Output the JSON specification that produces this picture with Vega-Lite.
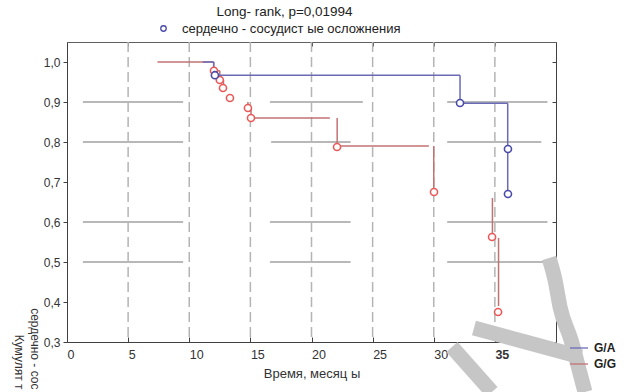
{
  "$schema": "https://vega.github.io/schema/vega-lite/v6.json",
  "width": 489,
  "height": 300,
  "autosize": "none",
  "padding": {"left": 67, "top": 42, "right": 68, "bottom": 50},
  "background": "white",
  "title": {"text": "Long- rank, p=0,01994", "fontSize": 13.5, "fontWeight": "normal", "font": "Liberation Sans", "color": "#222222", "anchor": "middle", "dx": -27, "offset": 4},
  "config": {
    "view": {"stroke": null},
    "font": "Liberation Sans",
    "axis": {"labelFont": "Liberation Sans", "titleFont": "Liberation Sans", "labelColor": "#333333", "titleColor": "#333333", "grid": false, "domainColor": "#404040", "tickColor": "#404040"},
    "legend": {"labelFont": "Liberation Sans", "labelLimit": 0}
  },
  "datasets": {
    "vgrid": [{"v": 5}, {"v": 10}, {"v": 15}, {"v": 20}, {"v": 25}, {"v": 30}, {"v": 35}],
    "hgrid": [
      {"a": 1.3, "b": 9.5, "p": 0.9}, {"a": 16.6, "b": 24.2, "p": 0.9}, {"a": 31.1, "b": 39.3, "p": 0.9},
      {"a": 1.3, "b": 9.5, "p": 0.8}, {"a": 16.7, "b": 23.2, "p": 0.8}, {"a": 31.1, "b": 38.8, "p": 0.8},
      {"a": 1.3, "b": 9.5, "p": 0.6}, {"a": 16.6, "b": 23.2, "p": 0.6}, {"a": 31.1, "b": 39.3, "p": 0.6},
      {"a": 1.3, "b": 9.5, "p": 0.5}, {"a": 16.6, "b": 23.2, "p": 0.5}, {"a": 31.1, "b": 39.3, "p": 0.5}
    ],
    "seg": [
      {"g": "G/G", "t1": 7.4, "t2": 12.0, "s1": 1.0, "s2": 1.0},
      {"g": "G/G", "t1": 12.0, "t2": 12.0, "s1": 1.0, "s2": 0.978},
      {"g": "G/G", "t1": 12.0, "t2": 12.5, "s1": 0.978, "s2": 0.978},
      {"g": "G/G", "t1": 12.5, "t2": 12.5, "s1": 0.978, "s2": 0.955},
      {"g": "G/G", "t1": 12.5, "t2": 12.8, "s1": 0.955, "s2": 0.955},
      {"g": "G/G", "t1": 12.8, "t2": 12.8, "s1": 0.955, "s2": 0.935},
      {"g": "G/G", "t1": 14.8, "t2": 14.8, "s1": 0.9, "s2": 0.885},
      {"g": "G/G", "t1": 15.05, "t2": 15.05, "s1": 0.885, "s2": 0.86},
      {"g": "G/G", "t1": 15.05, "t2": 21.5, "s1": 0.86, "s2": 0.86},
      {"g": "G/G", "t1": 22.1, "t2": 22.1, "s1": 0.86, "s2": 0.79},
      {"g": "G/G", "t1": 22.1, "t2": 29.6, "s1": 0.79, "s2": 0.79},
      {"g": "G/G", "t1": 30.0, "t2": 30.0, "s1": 0.79, "s2": 0.675},
      {"g": "G/G", "t1": 34.8, "t2": 34.8, "s1": 0.66, "s2": 0.5625},
      {"g": "G/G", "t1": 35.3, "t2": 35.3, "s1": 0.56, "s2": 0.39},
      {"g": "G/A", "t1": 11.1, "t2": 12.0, "s1": 1.0, "s2": 1.0},
      {"g": "G/A", "t1": 12.0, "t2": 12.0, "s1": 1.0, "s2": 0.967},
      {"g": "G/A", "t1": 12.0, "t2": 32.15, "s1": 0.967, "s2": 0.967},
      {"g": "G/A", "t1": 32.15, "t2": 32.15, "s1": 0.967, "s2": 0.897},
      {"g": "G/A", "t1": 32.15, "t2": 36.05, "s1": 0.897, "s2": 0.897},
      {"g": "G/A", "t1": 36.05, "t2": 36.05, "s1": 0.897, "s2": 0.67}
    ],
    "pts": [
      {"g": "G/A", "t": 12.1, "s": 0.967},
      {"g": "G/A", "t": 32.15, "s": 0.8975},
      {"g": "G/A", "t": 36.07, "s": 0.7825},
      {"g": "G/A", "t": 36.07, "s": 0.67},
      {"g": "G/G", "t": 12.02, "s": 0.978},
      {"g": "G/G", "t": 12.5, "s": 0.955},
      {"g": "G/G", "t": 12.76, "s": 0.935},
      {"g": "G/G", "t": 13.33, "s": 0.91},
      {"g": "G/G", "t": 14.8, "s": 0.885},
      {"g": "G/G", "t": 15.05, "s": 0.86},
      {"g": "G/G", "t": 22.09, "s": 0.7875},
      {"g": "G/G", "t": 30.02, "s": 0.675},
      {"g": "G/G", "t": 34.77, "s": 0.5625},
      {"g": "G/G", "t": 35.26, "s": 0.375}
    ],
    "wm": [
      {"k": 1, "o": 1, "wx": 39.43, "wy": 0.51},
      {"k": 1, "o": 2, "wx": 39.92, "wy": 0.455},
      {"k": 1, "o": 3, "wx": 40.33, "wy": 0.3875},
      {"k": 1, "o": 4, "wx": 41.23, "wy": 0.305},
      {"k": 1, "o": 5, "wx": 41.96, "wy": 0.2225},
      {"k": 1, "o": 6, "wx": 42.37, "wy": 0.175},
      {"k": 2, "o": 1, "wx": 33.29, "wy": 0.335},
      {"k": 2, "o": 2, "wx": 42.05, "wy": 0.2625},
      {"k": 3, "o": 1, "wx": 31.49, "wy": 0.2875},
      {"k": 3, "o": 2, "wx": 34.76, "wy": 0.175}
    ]
  },
  "resolve": {"axis": {"x": "independent", "y": "independent"}},
  "layer": [
    {
      "data": {"name": "vgrid"},
      "mark": {"type": "rule", "color": "#b4b4b4", "strokeWidth": 1.5, "strokeDash": [10, 5]},
      "encoding": {
        "x": {"field": "v", "type": "quantitative", "scale": {"domain": [0, 40], "nice": false, "zero": false},
          "axis": {"orient": "top", "labels": false, "title": null, "values": [0, 5, 10, 15, 20, 25, 30, 35, 40], "tickSize": -4, "domainColor": "#606060"}}
      }
    },
    {
      "data": {"name": "hgrid"},
      "mark": {"type": "rule", "color": "#b8b8b8", "strokeWidth": 2},
      "encoding": {
        "x": {"field": "a", "type": "quantitative", "scale": {"domain": [0, 40], "nice": false, "zero": false}, "axis": null},
        "x2": {"field": "b"},
        "y": {"field": "p", "type": "quantitative", "scale": {"domain": [0.3, 1.05], "nice": false, "zero": false},
          "axis": {"orient": "right", "labels": false, "title": null, "values": [0.3, 0.4, 0.5, 0.6, 0.7, 0.8, 0.9, 1.0], "tickSize": -4}}
      }
    },
    {
      "data": {"name": "seg"},
      "mark": {"type": "rule", "strokeWidth": 1.5},
      "encoding": {
        "x": {"field": "t1", "type": "quantitative", "scale": {"domain": [0, 40], "nice": false, "zero": false},
          "axis": {"orient": "bottom", "values": [0, 5, 10, 15, 20, 25, 30, 35, 40], "labelAlign": "left", "labelFontSize": 12.5,
            "labelFontWeight": {"condition": {"test": "datum.value == 35", "value": "bold"}, "value": "normal"},
            "tickSize": -5, "labelPadding": 11, "title": "Время, месяц ы", "titleFontSize": 13, "titleFontWeight": "normal", "titlePadding": 7}},
        "x2": {"field": "t2"},
        "y": {"field": "s1", "type": "quantitative", "scale": {"domain": [0.3, 1.05], "nice": false, "zero": false},
          "axis": {"orient": "left", "values": [0.3, 0.4, 0.5, 0.6, 0.7, 0.8, 0.9, 1.0],
            "labelExpr": "replace(format(datum.value, '.1f'), '.', ',')", "labelFontSize": 12, "tickSize": 4, "labelPadding": 3,
            "title": ["сердечно - сос", "Кумулят т"], "titleAngle": 90, "titleAlign": "right", "titleBaseline": "top",
            "titleX": -28, "titleY": 347, "titleFontSize": 12, "titleFontWeight": "normal", "titleLineHeight": 16}},
        "y2": {"field": "s2"},
        "color": {"field": "g", "type": "nominal", "scale": {"domain": ["G/A", "G/G"], "range": ["#6a6ab8", "#c27272"]},
          "legend": {"orient": "none", "legendX": 502, "legendY": 296, "title": null, "symbolType": "stroke", "symbolSize": 324,
            "symbolStrokeWidth": 1.3, "labelFontSize": 12, "labelFontWeight": "bold", "labelColor": "#222222", "labelOffset": 5, "padding": 0, "rowPadding": 0}}
      }
    },
    {
      "data": {"name": "pts"},
      "transform": [{"filter": "datum.g == 'G/G'"}],
      "mark": {"type": "point", "shape": "circle", "filled": false, "color": "#e85a5a", "fill": "white", "strokeWidth": 1.6, "size": 50, "opacity": 1},
      "encoding": {
        "x": {"field": "t", "type": "quantitative", "scale": {"domain": [0, 40], "nice": false, "zero": false}, "axis": null},
        "y": {"field": "s", "type": "quantitative", "scale": {"domain": [0.3, 1.05], "nice": false, "zero": false}, "axis": null}
      }
    },
    {
      "data": {"name": "pts"},
      "transform": [{"filter": "datum.g == 'G/A'"}],
      "mark": {"type": "point", "shape": "circle", "filled": false, "fill": "white", "strokeWidth": 1.6, "size": 50, "opacity": 1},
      "encoding": {
        "x": {"field": "t", "type": "quantitative", "scale": {"domain": [0, 40], "nice": false, "zero": false}, "axis": null},
        "y": {"field": "s", "type": "quantitative", "scale": {"domain": [0.3, 1.05], "nice": false, "zero": false}, "axis": null},
        "stroke": {"datum": "сердечно - сосудист ые осложнения", "type": "nominal", "scale": {"range": ["#4a4aa8"]},
          "legend": {"orient": "none", "legendX": 90, "legendY": -20, "title": null, "symbolType": "circle", "symbolFillColor": "white",
            "symbolSize": 30, "symbolStrokeWidth": 1.3, "labelFontSize": 13, "labelColor": "#222222", "labelOffset": 12, "labelLimit": 0, "padding": 0}}
      }
    },
    {
      "data": {"name": "wm"},
      "mark": {"type": "line", "color": "#c6c6c6", "strokeWidth": 15, "clip": false, "strokeCap": "butt", "interpolate": "monotone"},
      "encoding": {
        "x": {"field": "wx", "type": "quantitative", "scale": {"domain": [0, 40], "nice": false, "zero": false}, "axis": null},
        "y": {"field": "wy", "type": "quantitative", "scale": {"domain": [0.3, 1.05], "nice": false, "zero": false}, "axis": null},
        "detail": {"field": "k", "type": "nominal"},
        "order": {"field": "o", "type": "quantitative"}
      }
    }
  ]
}
